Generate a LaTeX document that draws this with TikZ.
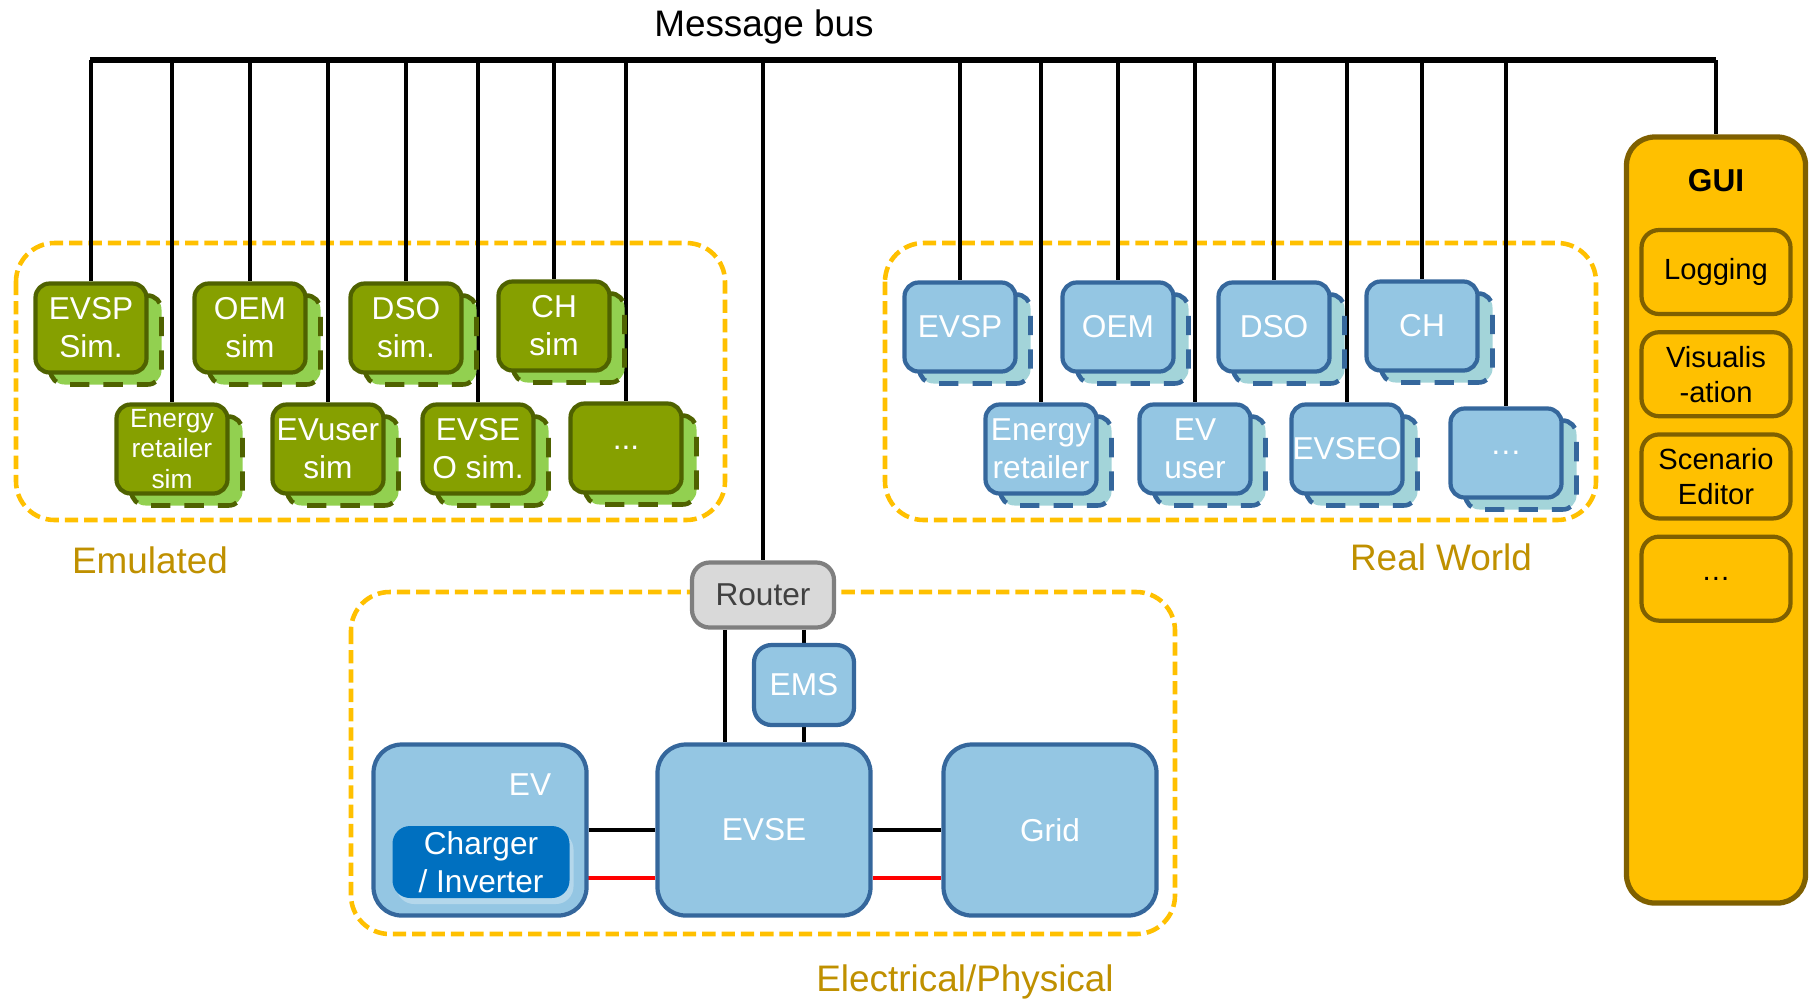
\documentclass[tikz,border=0pt]{standalone}
\usepackage{fontspec}
\setmainfont{Liberation Sans}
\usetikzlibrary{positioning, shadows, backgrounds}

\definecolor{emufill}{HTML}{86A000}
\definecolor{emuline}{HTML}{4F6200}
\definecolor{emushade}{HTML}{92D050}
\definecolor{realfill}{HTML}{94C6E3}
\definecolor{realline}{HTML}{35679C}
\definecolor{realshade}{HTML}{A3D4D9}
\definecolor{grpline}{HTML}{FFC000}
\definecolor{grptext}{HTML}{BF9000}
\definecolor{guifill}{HTML}{FFC000}
\definecolor{guiline}{HTML}{7F6000}
\definecolor{chgfill}{HTML}{0070C0}
\definecolor{rtfill}{HTML}{D9D9D9}
\definecolor{rtline}{HTML}{7F7F7F}
\definecolor{rttext}{HTML}{404040}
\definecolor{pwr}{HTML}{FF0000}

\begin{document}
\begin{tikzpicture}[x=0.1mm, y=-0.1mm, font=\fontsize{9}{10.8}\selectfont,
		box/.style={rectangle, rounded corners=4pt, line width=1.2pt, text=white, align=center, inner sep=0pt},
		emu/.style={box, draw=emuline, fill=emufill, minimum width=11.1mm, minimum height=8.9mm,
			copy shadow={shadow xshift=1.5mm, shadow yshift=-1.2mm, fill=emushade, draw=emuline, dash pattern=on 5.5pt off 4pt, dash phase=2pt, line width=1.3pt}},
		real/.style={box, draw=realline, fill=realfill, minimum width=11.1mm, minimum height=8.9mm,
			copy shadow={shadow xshift=1.5mm, shadow yshift=-1.2mm, fill=realshade, draw=realline, dash pattern=on 5.5pt off 4pt, dash phase=2pt, line width=1.3pt}},
		phys/.style={box, draw=realline, fill=realfill, rounded corners=8pt, minimum width=21.3mm, minimum height=17.1mm},
		grp/.style={draw=grpline, line width=1.3pt, dash pattern=on 3.8pt off 1.7pt, rounded corners=11pt},
		grplbl/.style={text=grptext, font=\fontsize{10.5}{12}\selectfont},
		guiitem/.style={draw=guiline, fill=guifill, line width=1.2pt, rounded corners=5pt, minimum width=14.9mm, minimum height=8.4mm, align=center, inner sep=0pt, font=\fontsize{8.3}{10}\selectfont},
		wire/.style={line width=0.9pt},
		bus/.style={line width=1.5pt}
		]
		\useasboundingbox (0,0) rectangle (1812,1003);

		% emulated actors
		\node (evsp) [emu] at (91,328) {EVSP\\Sim.};
		\node (oem) [emu] at (250,328) {OEM\\sim};
		\node (dso) [emu] at (406,328) {DSO\\sim.};
		\node (ch) [emu] at (554,326) {CH\\sim};
		\node (er) [emu, font=\fontsize{7.5}{8.8}\selectfont] at (172,449) {Energy\\retailer\\sim};
		\node (evu) [emu] at (328,449) {EVuser\\sim};
		\node (evseo) [emu] at (478,449) {EVSE\\O sim.};
		\node (emore) [emu] at (626,448) {...};

		% real world actors
		\node (revsp) [real] at (960,327) {EVSP};
		\node (roem) [real] at (1118,327) {OEM};
		\node (rdso) [real] at (1274,327) {DSO};
		\node (rch) [real] at (1422,326) {CH};
		\node (rer) [real] at (1041,449) {Energy\\retailer};
		\node (revu) [real] at (1195,449) {EV\\user};
		\node (revseo) [real] at (1347,449) {EVSEO};
		\node (rmore) [real] at (1506,453) {…};

		% electrical side
		\node (router) [box, draw=rtline, fill=rtfill, text=rttext, rounded corners=5pt, minimum width=14.2mm, minimum height=6.5mm] at (763,595) {Router};
		\node (ems) [box, draw=realline, fill=realfill, rounded corners=5pt, minimum width=10mm, minimum height=8mm] at (804,685) {EMS};
		\node (ev) [phys] at (480,830) {};
		\node (evse) [phys] at (764,830) {EVSE};
		\node (grid) [phys] at (1050,830) {Grid};
		\node (chg) [box, fill=chgfill, rounded corners=5pt, minimum width=17.7mm, minimum height=7.2mm,
			copy shadow={draw=none, fill=white, opacity=.3, shadow xshift=.4mm, shadow yshift=-.6mm}] at (481,862) {Charger\\/ Inverter};
		\node (evname) [text=white] at (530,785) {EV};

		% gui column
		\node (gui) [guiitem, line width=1.5pt, rounded corners=8pt, minimum width=17.9mm, minimum height=76.6mm] at (1716,520) {};
		\node (guiname) [font=\bfseries\fontsize{9}{10.8}\selectfont] at (1716,181) {GUI};
		\node (log) [guiitem] at (1716,272) {Logging};
		\node (vis) [guiitem, below=1.4mm of log] {Visualis\\-ation};
		\node (scen) [guiitem, below=1.4mm of vis] {Scenario\\Editor};
		\node (gmore) [guiitem, below=1.4mm of scen] {…};

		% captions
		\node (busname) [font=\fontsize{10.5}{12}\selectfont] at (764,27) {Message bus};
		\node (emulbl) [grplbl] at (150,560) {Emulated};
		\node (reallbl) [grplbl] at (1441,557) {Real World};
		\node (physlbl) [grplbl] at (965,982) {Electrical/Physical};

		\begin{scope}[on background layer]
			\draw [grp] (16,243) rectangle (725,520);
			\draw [grp] (885,243) rectangle (1596,520);
			\draw [grp] (351,592) rectangle (1175,934);

			\coordinate (busL) at (90,60);
			\coordinate (busR) at (1716,60);
			\draw [bus] (busL) -- (busR);
			\foreach \n in {evsp,er,oem,evu,dso,evseo,ch,emore,router,revsp,rer,roem,revu,rdso,revseo,rch,rmore,gui}
				\draw [wire] (\n.north |- busL) -- (\n.north);

			\draw [wire] ([xshift=-3.8mm]router.south) -- ([xshift=-3.8mm]router.south |- evse.north);
			\draw [wire] (ems.north |- router.south) -- (ems.north);
			\draw [wire] (ems.south) -- (ems.south |- evse.north);
			\draw [wire, line width=1pt] (ev.east) -- (evse.west);
			\draw [wire, line width=1pt] (evse.east) -- (grid.west);
			\draw [pwr, line width=1pt] ([yshift=-1.6mm]chg.east) -- ([yshift=-1.6mm]chg.east -| evse.west);
			\draw [pwr, line width=1pt] ([yshift=-4.8mm]evse.east) -- ([yshift=-4.8mm]grid.west);
		\end{scope}
	\end{tikzpicture}
\end{document}
